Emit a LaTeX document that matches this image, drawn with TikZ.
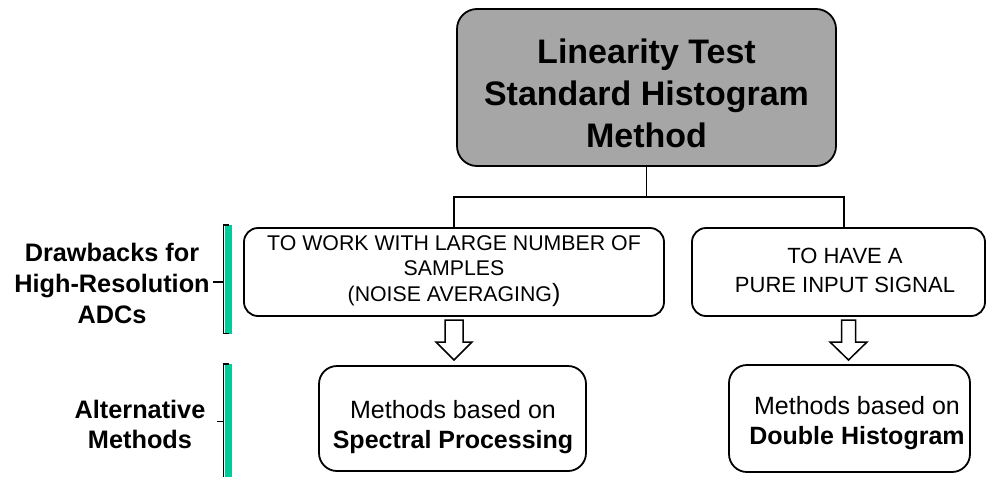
\documentclass[tikz,border=0pt]{standalone}
\usepackage{fontspec}
\setmainfont{Liberation Sans}
\usetikzlibrary{calc}
\definecolor{boxgray}{RGB}{166,166,166}
\definecolor{barteal}{RGB}{0,204,153}
\tikzset{
  box/.style={draw=black, line width=1.8pt, rounded corners=#1, inner sep=0pt},
  box/.default=14pt,
  txt/.style={align=center, inner sep=0pt, text=black},
  link/.style={draw=black, line width=1.7pt},
  pics/harrow/.style args={#1/#2}{code={
    \draw[line width=1.5pt, fill=white, line join=miter]
      (-#1,0) -- (#1,0) -- (#1,22) -- (#2,22) -- (0,40) -- (-#2,22) -- (-#1,22) -- cycle;}},
}
\newcommand{\fsz}[2]{\fontsize{#1}{#2}\selectfont}
\begin{document}
\begin{tikzpicture}[x=1pt, y=-1pt]
\useasboundingbox (0,0) rectangle (987,477);

% title box
\node[box=20pt, fill=boxgray, minimum width=379pt, minimum height=157pt] (top) at (646.5,87.5) {};
\node[txt, font=\bfseries\fsz{34}{42}] (toptxt) at (646.5,93) {Linearity Test\\Standard Histogram\\Method};

% drawback boxes
\node[box, minimum width=420pt, minimum height=88pt] (lbox) at (454,272) {};
\node[txt, font=\fsz{21.3}{25.5}] (lboxtxt) at (454,271) {TO WORK WITH LARGE NUMBER OF\\SAMPLES\\(NOISE AVERAGING{\fsz{25}{25}\raisebox{-0.5pt}{)}}};
\node[box, minimum width=293pt, minimum height=88pt] (rbox) at (838.5,272) {};
\node[txt, font=\fsz{22}{29}] (rboxtxt) at (845,270) {TO HAVE A\\PURE INPUT SIGNAL};

% alternative method boxes
\node[box=18pt, minimum width=267pt, minimum height=105pt] (lalt) at (452.5,418.5) {};
\node[txt, font=\fsz{25}{30}] (lalttxt) at (453,427) {Methods based on\\\textbf{Spectral Processing}};
\node[box=18pt, minimum width=241pt, minimum height=107pt] (ralt) at (849.5,418.5) {};
\node[txt, font=\fsz{25}{30}] (ralttxt) at (857,423) {Methods based on\\\textbf{Double Histogram}};

% tree connectors
\coordinate (jl) at (454,197);
\coordinate (jr) at (844,197);
\draw[link] (top.south) |- (jl) -- (jl |- lbox.north);
\draw[link] (top.south) |- (jr) -- (jr |- rbox.north);

% hollow arrows
\pic at (454,320) {harrow={9/18}};
\pic at (848.5,320) {harrow={7/18.5}};

% row labels
\node[txt, font=\bfseries\fsz{25.3}{31}] (lab1) at (112,283) {Drawbacks for\\High-Resolution\\ADCs};
\node[txt, font=\bfseries\fsz{25.3}{30}] (lab2) at (140,424) {Alternative\\Methods};

% brackets
\fill[barteal] (225,225) rectangle (231.5,333.5);
\draw[line width=1.6pt] (229,225) -- (223.5,225) -- (223.5,333.5) -- (229,333.5);
\coordinate (b1) at (223.5,282);
\draw[line width=1.3pt] (b1) -- ++(-11,0);

\fill[barteal] (225,364) rectangle (231.5,477);
\draw[line width=1.6pt] (229,364) -- (223.5,364) -- (223.5,477);
\coordinate (b2) at (223.5,421.5);
\draw[line width=1.3pt] (b2) -- ++(-7,0);
\end{tikzpicture}
\end{document}
